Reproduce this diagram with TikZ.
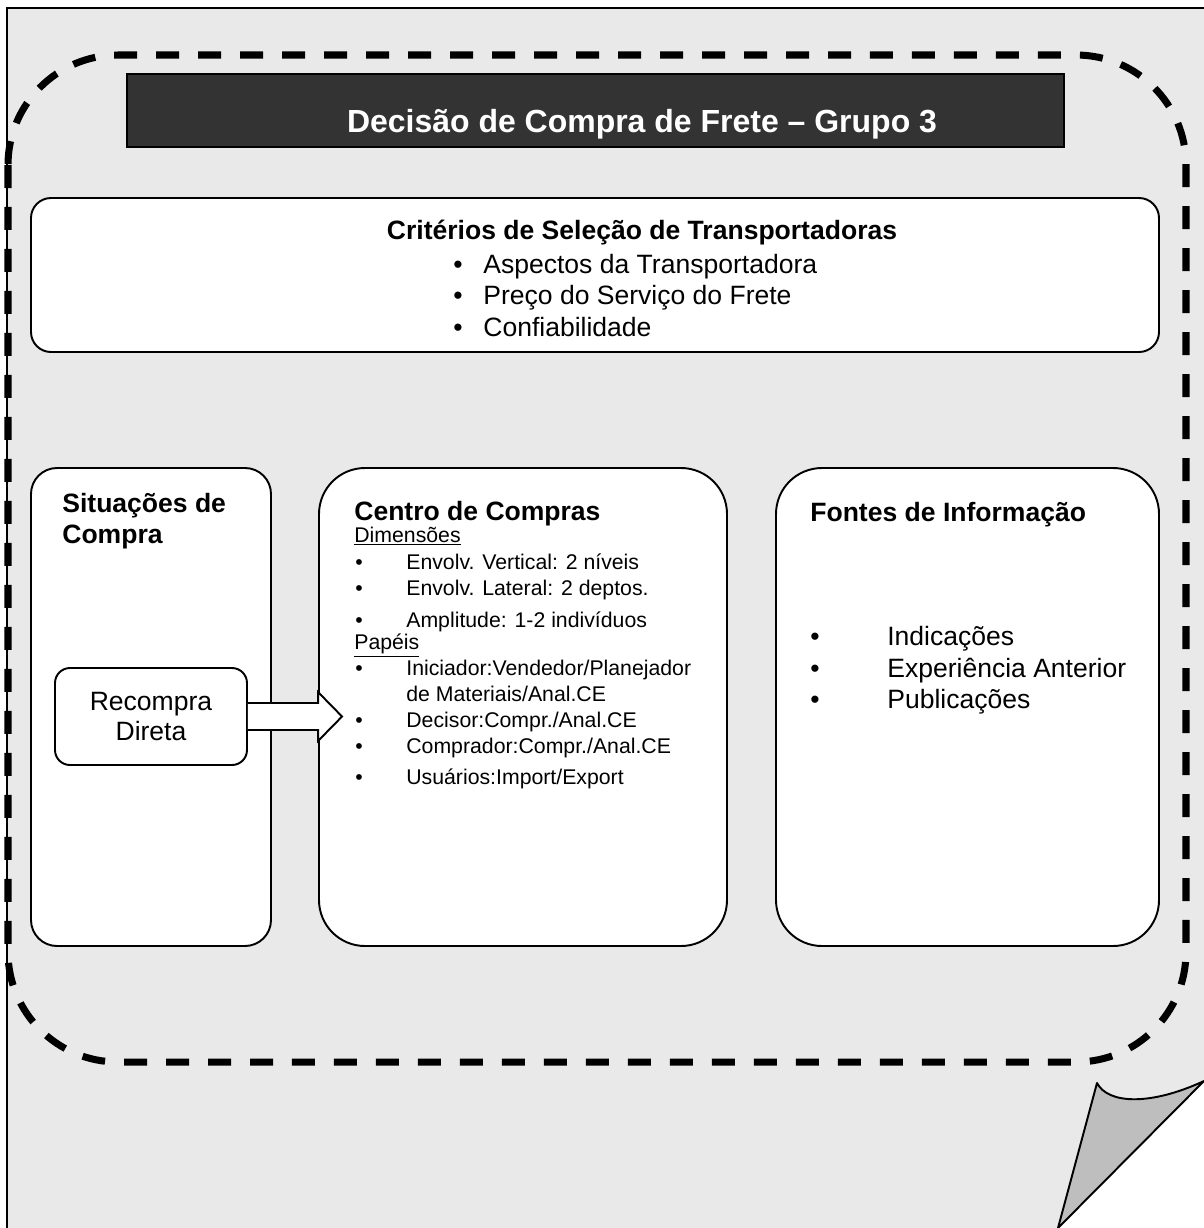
\documentclass[tikz,border=0pt]{standalone}
\usepackage{fontspec}
\setmainfont{Liberation Sans}
\usetikzlibrary{calc}
\newlength{\pxu}\setlength{\pxu}{0.02cm}
\definecolor{folha}{HTML}{E9E9E9}
\definecolor{barra}{HTML}{333333}
\definecolor{dobra}{HTML}{BEBEBE}
\tikzset{
  caixa/.style={draw, line width=1.1pt, fill=white, inner sep=0pt},
  negrito/.style={inner sep=0pt, font=\bfseries\fontsize{15.1}{18}\selectfont},
  grande/.style={inner sep=0pt, font=\fontsize{15.1}{18}\selectfont},
  pequeno/.style={inner sep=0pt, font=\fontsize{12.1}{14.5}\selectfont},
  seta/.style={draw, line width=1.1pt, fill=white, line join=miter},
}

\begin{document}
\begin{tikzpicture}[x=0.02cm, y=-0.02cm]
	%%%%% FOLHA %%%%%
	\useasboundingbox (0,0) rectangle (1204,1228);
	\fill[folha] (7,8) -- (1204,8) -- (1204,1081) -- (1058,1228) -- (7,1228) -- cycle;
	\draw[line width=1.2pt] (7,1228) -- (7,8) -- (1204,8);
	
	\draw[line width=4pt, rounded corners=110\pxu, dash pattern=on 0.46cm off 0.38cm] (8,55) rectangle (1186,1062);
	
	%%%%% TITULO %%%%%
	\node[draw, line width=1pt, fill=barra, minimum width=937\pxu, minimum height=73\pxu, inner sep=0pt] (barra) at (595.5,110.5) {};
	\node[anchor=base, inner sep=0pt, text=white, font=\bfseries\fontsize{18.2}{22}\selectfont] (titulo) at (642,132) {Decisão de Compra de Frete – Grupo 3};
	
	%%%%% CRITERIOS %%%%%
	\node[caixa, rounded corners=20\pxu, minimum width=1128\pxu, minimum height=154\pxu] (criterios) at (595,275) {};
	\node[negrito, anchor=base] (crittit) at (642,239) {Critérios de Seleção de Transportadoras};
	\node[grande, anchor=base] (cb1) at (458,273) {\textbullet};
	\node[grande, anchor=base west] (c1) at (483,273) {Aspectos da Transportadora};
	\node[grande, anchor=base] (cb2) at (458,304.5) {\textbullet};
	\node[grande, anchor=base west] (c2) at (483,304.5) {Preço do Serviço do Frete};
	\node[grande, anchor=base] (cb3) at (458,336) {\textbullet};
	\node[grande, anchor=base west] (c3) at (483,336) {Confiabilidade};
	
	%%%%% SITUACOES %%%%%
	\node[caixa, rounded corners=26\pxu, minimum width=240\pxu, minimum height=478\pxu] (situacoes) at (151,707) {};
	\node[negrito, anchor=base west] (sit1) at (62,512) {Situações de};
	\node[negrito, anchor=base west] (sit2) at (62,543) {Compra};
	
	%%%%% CENTRO %%%%%
	\node[caixa, rounded corners=46\pxu, minimum width=408\pxu, minimum height=478\pxu] (centro) at (523,707) {};
	\node[negrito, anchor=base west] (centrotit) at (354,520) {Centro de Compras};
	\node[pequeno, anchor=base west] (dim) at (354,542) {\underline{Dimensões}};
	\node[pequeno, anchor=base] (db1) at (359,569) {\textbullet};
	\node[pequeno, anchor=base west] (d1) at (406,569) {Envolv. Vertical: 2 níveis};
	\node[pequeno, anchor=base] (db2) at (359,595) {\textbullet};
	\node[pequeno, anchor=base west] (d2) at (406,595) {Envolv. Lateral: 2 deptos.};
	\node[pequeno, anchor=base] (db3) at (359,627) {\textbullet};
	\node[pequeno, anchor=base west] (d3) at (406,627) {Amplitude: 1-2 indivíduos};
	\node[pequeno, anchor=base west] (pap) at (354,649) {\underline{Papéis}};
	\node[pequeno, anchor=base] (pb1) at (359,675) {\textbullet};
	\node[pequeno, anchor=base west] (p1) at (406,675) {Iniciador:Vendedor/Planejador};
	\node[pequeno, anchor=base west] (p1b) at (406,701) {de Materiais/Anal.CE};
	\node[pequeno, anchor=base] (pb2) at (359,727) {\textbullet};
	\node[pequeno, anchor=base west] (p2) at (406,727) {Decisor:Compr./Anal.CE};
	\node[pequeno, anchor=base] (pb3) at (359,753) {\textbullet};
	\node[pequeno, anchor=base west] (p3) at (406,753) {Comprador:Compr./Anal.CE};
	\node[pequeno, anchor=base] (pb4) at (359,784) {\textbullet};
	\node[pequeno, anchor=base west] (p4) at (406,784) {Usuários:Import/Export};
	
	%%%%% FONTES %%%%%
	\node[caixa, rounded corners=46\pxu, minimum width=383\pxu, minimum height=478\pxu] (fontes) at (967.5,707) {};
	\node[negrito, anchor=base west] (fontestit) at (810,521) {Fontes de Informação};
	\node[grande, anchor=base] (fb1) at (815,645) {\textbullet};
	\node[grande, anchor=base west] (f1) at (887,645) {Indicações};
	\node[grande, anchor=base] (fb2) at (815,677) {\textbullet};
	\node[grande, anchor=base west] (f2) at (887,677) {Experiência Anterior};
	\node[grande, anchor=base] (fb3) at (815,708) {\textbullet};
	\node[grande, anchor=base west] (f3) at (887,708) {Publicações};
	
	%%%%% RECOMPRA %%%%%
	\node[caixa, rounded corners=15\pxu, minimum width=192\pxu, minimum height=97\pxu, align=center, font=\fontsize{15.1}{17.6}\selectfont] (recompra) at (151,716.5) {Recompra\\Direta};
	
	\draw[seta] ($(recompra.east)+(0,-13.5)$) -- ($(centro.west |- recompra.east)+(0,-13.5)$) -- ++(0,-11) -- ($(centro.west |- recompra.east)+(24,0)$) -- ($(centro.west |- recompra.east)+(0,24.5)$) -- ++(0,-11) -- ($(recompra.east)+(0,13.5)$);
	
	%%%%% DOBRA %%%%%
	\draw[line width=1.1pt, fill=dobra, line join=round] (1058,1228) -- (1097,1083) .. controls (1108,1104) and (1150,1106) .. (1204,1081) -- cycle;
	
\end{tikzpicture}
\end{document}
